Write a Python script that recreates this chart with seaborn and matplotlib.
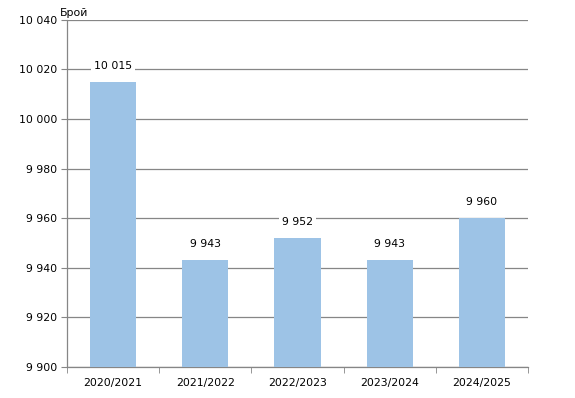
import matplotlib
matplotlib.use("Agg")
import matplotlib.pyplot as plt
import matplotlib.ticker as mticker
import pandas as pd
import seaborn as sns

YEARS = ["2020/2021", "2021/2022", "2022/2023", "2023/2024", "2024/2025"]
COUNTS = [10015, 9943, 9952, 9943, 9960]
Y_TICKS = [9900, 9920, 9940, 9960, 9980, 10000, 10020, 10040]

BAR_COLOR = "#9DC3E6"
LINE_COLOR = "#868686"


def fmt_space(v, _pos=None):
    return f"{int(round(v)):,}".replace(",", " ")


df = pd.DataFrame({"year": YEARS, "count": COUNTS})

sns.set_style("white")
plt.rcParams["font.family"] = ["DejaVu Sans"]
plt.rcParams["text.color"] = "black"
plt.rcParams["xtick.color"] = "black"
plt.rcParams["ytick.color"] = "black"

fig = plt.figure(figsize=(5.75, 3.98), dpi=100)
ax = fig.add_axes([0.1165, 0.078, 0.8017, 0.872])

sns.barplot(data=df, x="year", y="count", color=BAR_COLOR, width=0.5,
            saturation=1, linewidth=0, ax=ax, zorder=3)

ax.set_ylim(Y_TICKS[0], Y_TICKS[-1])
ax.set_yticks(Y_TICKS)
ax.yaxis.set_major_formatter(mticker.FuncFormatter(fmt_space))
ax.set_xlim(-0.5, len(YEARS) - 0.5)
ax.grid(axis="y", color=LINE_COLOR, linewidth=0.9, zorder=0)
ax.set_axisbelow(True)

for side in ["top", "right"]:
    ax.spines[side].set_visible(False)
for side in ["left", "bottom"]:
    ax.spines[side].set_color(LINE_COLOR)
    ax.spines[side].set_linewidth(0.9)

ax.tick_params(axis="y", length=4, color=LINE_COLOR, labelsize=7.8, pad=3, left=True)
ax.tick_params(axis="x", which="major", length=0, labelsize=7.8, pad=8)
ax.set_xticks([i - 0.5 for i in range(len(YEARS) + 1)], minor=True)
ax.tick_params(axis="x", which="minor", length=4, color=LINE_COLOR, bottom=True)

ax.set_xlabel("")
ax.set_ylabel("")

for i, v in enumerate(COUNTS):
    ax.text(i, v + 4.5, fmt_space(v), ha="center", va="bottom", fontsize=7.8,
            bbox=dict(facecolor="white", edgecolor="none", pad=2), zorder=4)

fig.text(0.1165 - 0.012, 0.955, "Брой", ha="left", va="bottom", fontsize=7.8)

fig.savefig("out.png", dpi=100)
